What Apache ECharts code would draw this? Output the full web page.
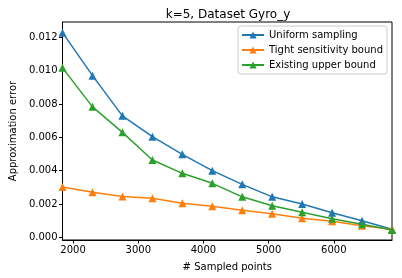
<!DOCTYPE html>
<html><head><meta charset="utf-8">
<script src="https://cdn.jsdelivr.net/npm/echarts@6/dist/echarts.min.js"></script>
<style>html,body{margin:0;padding:0;background:#fff}#c{width:402px;height:278px}</style>
</head><body><div id="c"></div>
<script>
const sampledPoints = [1838, 2298, 2757, 3217, 3676, 4136, 4595, 5055, 5514, 5974, 6433, 6893];
const uniformSampling = [0.01228, 0.0097, 0.00729, 0.00604, 0.00498, 0.0040, 0.00318, 0.00243, 0.0020, 0.00148, 0.0010, 0.00048];
const tightSensitivity = [0.00302, 0.0027, 0.00245, 0.00234, 0.00204, 0.00186, 0.00162, 0.00142, 0.00114, 0.00096, 0.0007, 0.00048];
const existingUpper = [0.01017, 0.00783, 0.0063, 0.00464, 0.00384, 0.00324, 0.00243, 0.00189, 0.0015, 0.00112, 0.00078, 0.00044];
const xTicks = [2000, 3000, 4000, 5000, 6000];
const yTicks = [0, 0.002, 0.004, 0.006, 0.008, 0.010, 0.012];
const seriesNames = ['Uniform sampling', 'Tight sensitivity bound', 'Existing upper bound'];
const colors = ['#1f77b4', '#ff7f0e', '#2ca02c'];

const font = 'DejaVu Sans';
const chart = echarts.init(document.getElementById('c'), null, {renderer: 'canvas'});
const mk = (name, vals, color) => ({
  name, type: 'line', data: sampledPoints.map((x, i) => [x, vals[i]]),
  symbol: 'triangle', symbolSize: 8, showSymbol: true,
  lineStyle: {color, width: 1.5}, itemStyle: {color, borderWidth: 0},
  animation: false, z: 3
});
chart.setOption({
  animation: false,
  title: {text: 'k=5, Dataset Gyro_y', left: 223, top: 4, textAlign: 'center',
    textStyle: {fontFamily: font, fontSize: 12, fontWeight: 'normal', color: '#000'}},
  grid: {left: 57, right: 10, top: 22, bottom: 38, show: true, borderColor: '#000', borderWidth: 1, containLabel: false},
  legend: {
    orient: 'vertical', right: 15, top: 26, itemGap: 5, itemWidth: 22, itemHeight: 9,
    padding: [4, 4, 4, 3], borderColor: '#ccc', borderWidth: 1, borderRadius: 3,
    backgroundColor: 'rgba(255,255,255,0.8)',
    textStyle: {fontFamily: font, fontSize: 10, color: '#000'},
    data: seriesNames
  },
  xAxis: {
    type: 'value', min: 1838, max: 6893,
    name: '# Sampled points', nameLocation: 'middle', nameGap: 22,
    nameTextStyle: {fontFamily: font, fontSize: 10, color: '#000'},
    axisLine: {show: true, onZero: false, lineStyle: {color: '#000', width: 1}},
    axisTick: {show: true, length: 3.5, lineStyle: {color: '#000'}, customValues: xTicks},
    axisLabel: {fontFamily: font, fontSize: 10, color: '#000', margin: 5, customValues: xTicks,
      formatter: v => String(v)},
    splitLine: {show: false}
  },
  yAxis: {
    type: 'value', min: -0.00016, max: 0.01292,
    name: 'Approximation error', nameLocation: 'middle', nameGap: 42,
    nameTextStyle: {fontFamily: font, fontSize: 10, color: '#000'},
    axisLine: {show: true, onZero: false, lineStyle: {color: '#000', width: 1}},
    axisTick: {show: true, length: 3.5, lineStyle: {color: '#000'}, customValues: yTicks},
    axisLabel: {fontFamily: font, fontSize: 10, color: '#000', margin: 5, customValues: yTicks,
      formatter: v => v.toFixed(3)},
    splitLine: {show: false}
  },
  series: [
    mk(seriesNames[0], uniformSampling, colors[0]),
    mk(seriesNames[1], tightSensitivity, colors[1]),
    mk(seriesNames[2], existingUpper, colors[2])
  ]
});
</script></body></html>
